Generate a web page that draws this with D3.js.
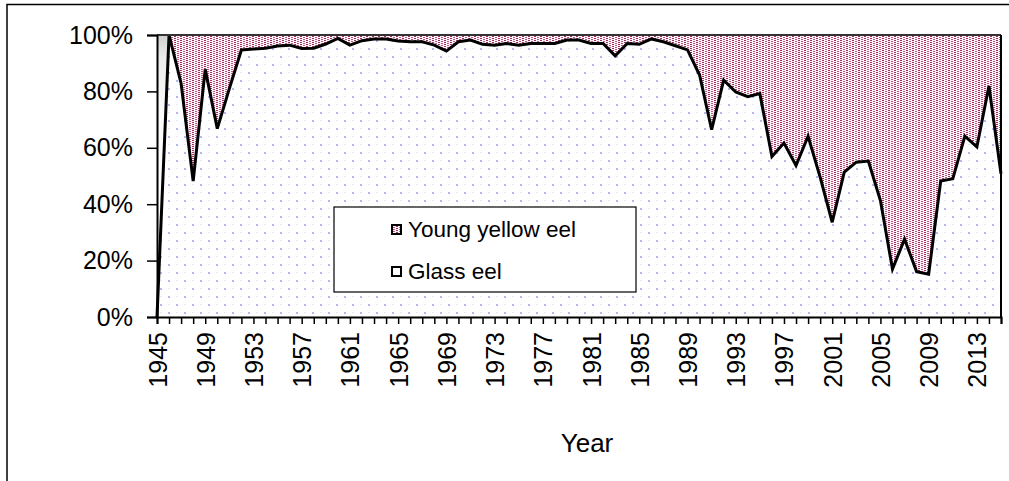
<!DOCTYPE html>
<html>
<head>
<meta charset="utf-8">
<script src="https://cdn.jsdelivr.net/npm/d3@7/dist/d3.min.js"></script>
<style>
  html, body { margin: 0; padding: 0; background: #fff; }
  svg { display: block; font-family: "Liberation Sans", Arial, sans-serif; }
</style>
</head>
<body>
<svg id="chart" width="1009" height="481"></svg>
<script>
// Share of catch by life stage, per year (percent)
const years = [
  1945, 1946, 1947, 1948, 1949, 1950, 1951, 1952, 1953, 1954,
  1955, 1956, 1957, 1958, 1959, 1960, 1961, 1962, 1963, 1964,
  1965, 1966, 1967, 1968, 1969, 1970, 1971, 1972, 1973, 1974,
  1975, 1976, 1977, 1978, 1979, 1980, 1981, 1982, 1983, 1984,
  1985, 1986, 1987, 1988, 1989, 1990, 1991, 1992, 1993, 1994,
  1995, 1996, 1997, 1998, 1999, 2000, 2001, 2002, 2003, 2004,
  2005, 2006, 2007, 2008, 2009, 2010, 2011, 2012, 2013, 2014,
  2015
];
const glassEel = [
  0, 100, 82.8, 48.2, 87.8, 66.8, 81.0, 94.7, 95.0, 95.3,
  96.1, 96.4, 95.2, 95.3, 96.8, 98.8, 96.4, 98.0, 98.6, 98.6,
  97.9, 97.6, 97.6, 96.4, 94.3, 97.6, 98.2, 96.7, 96.4, 97.0,
  96.4, 97.0, 97.0, 97.0, 98.2, 98.2, 97.0, 97.0, 92.6, 97.0,
  96.7, 98.6, 97.6, 96.2, 94.7, 85.8, 66.4, 84.0, 79.8, 78.1,
  79.2, 56.9, 61.7, 53.7, 64.1, 49.6, 33.6, 51.4, 54.9, 55.3,
  41.3, 17.0, 27.6, 16.1, 15.2, 48.2, 49.0, 64.1, 60.3, 81.9,
  50.8
];
const youngYellowEel = [
  100, 0, 17.2, 51.8, 12.2, 33.2, 19.0, 5.3, 5.0, 4.7,
  3.9, 3.6, 4.8, 4.7, 3.2, 1.2, 3.6, 2.0, 1.4, 1.4,
  2.1, 2.4, 2.4, 3.6, 5.7, 2.4, 1.8, 3.3, 3.6, 3.0,
  3.6, 3.0, 3.0, 3.0, 1.8, 1.8, 3.0, 3.0, 7.4, 3.0,
  3.3, 1.4, 2.4, 3.8, 5.3, 14.2, 33.6, 16.0, 20.2, 21.9,
  20.8, 43.1, 38.3, 46.3, 35.9, 50.4, 66.4, 48.6, 45.1, 44.7,
  58.7, 83.0, 72.4, 83.9, 84.8, 51.8, 51.0, 35.9, 39.7, 18.1,
  49.2
];
const seriesKeys = ["glass", "young"];
const legendLabels = ["Young yellow eel", "Glass eel"];
const yTicks = [0, 0.2, 0.4, 0.6, 0.8, 1];

const rows = years.map((yr, i) => ({ year: yr, glass: glassEel[i], young: youngYellowEel[i] }));
const stacked = d3.stack().keys(seriesKeys).offset(d3.stackOffsetExpand)(rows);

const svg = d3.select("#chart");
const plot = { left: 157, right: 1001, top: 35, bottom: 317 };

const x = d3.scalePoint().domain(years).range([plot.left, plot.right]);
const y = d3.scaleLinear().domain([0, 1]).range([plot.bottom, plot.top]);

// fill patterns
const defs = svg.append("defs");
const pGlass = defs.append("pattern").attr("id", "pGlass")
  .attr("patternUnits", "userSpaceOnUse").attr("width", 16).attr("height", 16)
  .attr("x", plot.left).attr("y", plot.bottom);
pGlass.append("rect").attr("width", 16).attr("height", 16).attr("fill", "#fff");
pGlass.append("rect").attr("x", 3).attr("y", 3).attr("width", 2).attr("height", 2).attr("fill", "#b4b4f6");
pGlass.append("rect").attr("x", 11).attr("y", 11).attr("width", 2).attr("height", 2).attr("fill", "#b4b4f6");
pGlass.append("rect").attr("x", 11).attr("y", 3).attr("width", 1.5).attr("height", 1).attr("fill", "#e2e2fa");
pGlass.append("rect").attr("x", 3).attr("y", 11).attr("width", 1.5).attr("height", 1).attr("fill", "#e2e2fa");

const pYoung = defs.append("pattern").attr("id", "pYoung")
  .attr("patternUnits", "userSpaceOnUse").attr("width", 6).attr("height", 2);
pYoung.append("rect").attr("width", 6).attr("height", 2).attr("fill", "#fbf3f7");
pYoung.append("rect").attr("x", 0).attr("y", 0).attr("width", 2).attr("height", 1).attr("fill", "#9e2c5c");
pYoung.append("rect").attr("x", 3).attr("y", 1).attr("width", 2).attr("height", 1).attr("fill", "#ba5882");

// soft shading in the first-year wedge
const gShade = defs.append("linearGradient").attr("id", "gShade")
  .attr("x1", 0).attr("y1", 0).attr("x2", 0).attr("y2", 1);
gShade.append("stop").attr("offset", "0%").attr("stop-color", "#cfcfcf");
gShade.append("stop").attr("offset", "8%").attr("stop-color", "#ececec");
gShade.append("stop").attr("offset", "30%").attr("stop-color", "#fbfbfb");
gShade.append("stop").attr("offset", "100%").attr("stop-color", "#ffffff");

// outer frame
svg.append("rect").attr("x", 7).attr("y", 4.5).attr("width", 1200).attr("height", 700)
  .attr("fill", "none").attr("stroke", "#000").attr("stroke-width", 1.5);

const area = d3.area()
  .x(d => x(d.data.year))
  .y0(d => y(d[0]))
  .y1(d => y(d[1]));

const glassS = stacked[0], youngS = stacked[1];

svg.append("path").attr("d", area(glassS)).attr("fill", "url(#pGlass)");
svg.append("path").attr("d", area(youngS.slice(1))).attr("fill", "url(#pYoung)");
svg.append("path").attr("d", area(youngS.slice(0, 2))).attr("fill", "url(#gShade)");

// boundary line between the two stages
svg.append("path")
  .attr("d", d3.line().x(d => x(d.data.year)).y(d => y(d[1]))(glassS))
  .attr("fill", "none").attr("stroke", "#000").attr("stroke-width", 3)
  .attr("stroke-linejoin", "miter");

// plot area border (top + right)
svg.append("line").attr("x1", plot.left).attr("x2", plot.right).attr("y1", plot.top).attr("y2", plot.top)
  .attr("stroke", "#333").attr("stroke-width", 2);
svg.append("line").attr("x1", plot.right).attr("x2", plot.right).attr("y1", plot.top).attr("y2", plot.bottom)
  .attr("stroke", "#000").attr("stroke-width", 2);

// y axis
const yAxis = svg.append("g").attr("transform", `translate(${plot.left},0)`)
  .call(d3.axisLeft(y).tickValues(yTicks).tickFormat(d3.format(".0%")).tickSize(10).tickPadding(14));
yAxis.select(".domain").attr("stroke", "#000").attr("stroke-width", 2);
yAxis.selectAll(".tick line").attr("stroke", "#000").attr("stroke-width", 1.5);
yAxis.selectAll(".tick text").attr("font-size", 25).attr("fill", "#000")
  .attr("font-family", "'Liberation Sans', Arial, sans-serif");

// x axis
const xAxis = svg.append("g").attr("transform", `translate(0,${plot.bottom})`)
  .call(d3.axisBottom(x).tickSize(7).tickFormat((d, i) => i % 4 === 0 ? d : ""));
xAxis.select(".domain").attr("stroke", "#000").attr("stroke-width", 2);
xAxis.selectAll(".tick line").attr("stroke", "#000").attr("stroke-width", 1.5);
xAxis.selectAll(".tick text")
  .attr("font-size", 25).attr("fill", "#000")
  .attr("font-family", "'Liberation Sans', Arial, sans-serif")
  .attr("text-anchor", "end")
  .attr("transform", "rotate(-90)")
  .attr("x", -15).attr("y", 0).attr("dy", "0.36em");

// axis title
svg.append("text").attr("x", 587).attr("y", 452).attr("text-anchor", "middle")
  .attr("font-size", 26).attr("fill", "#000").text("Year");

// legend
const lg = svg.append("g");
lg.append("rect").attr("x", 334).attr("y", 207).attr("width", 302).attr("height", 85)
  .attr("fill", "#fff").attr("stroke", "#000").attr("stroke-width", 1.2);
const legendFills = ["url(#pYoung)", "#fff"];
const legendY = [229, 271];
legendLabels.forEach((lab, i) => {
  lg.append("rect").attr("x", 392).attr("y", legendY[i] - 4).attr("width", 9).attr("height", 9)
    .attr("fill", legendFills[i]).attr("stroke", "#000").attr("stroke-width", 2);
  lg.append("text").attr("x", 408).attr("y", legendY[i]).attr("dy", "0.36em")
    .attr("font-size", 22.5).attr("fill", "#000").text(lab);
});
</script>
</body>
</html>
